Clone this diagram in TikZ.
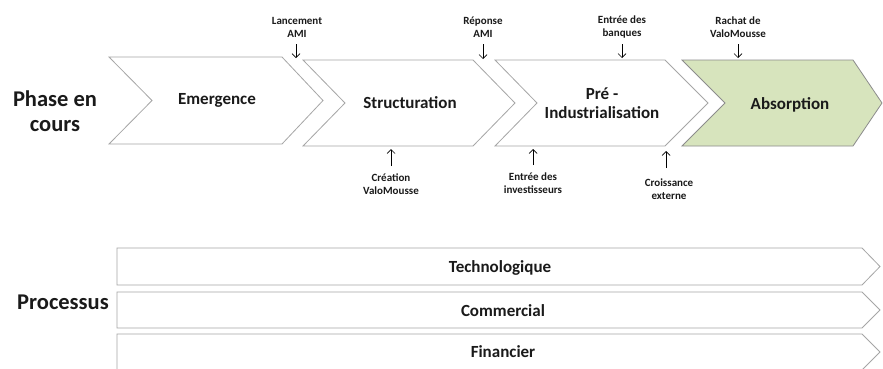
\documentclass[tikz,border=0pt]{standalone}
\usepackage{fontspec}
\setmainfont{Carlito}
\usetikzlibrary{arrows.meta}
\definecolor{chevline}{HTML}{A6A6A6}
\definecolor{absline}{HTML}{8C8C8C}
\definecolor{absfill}{HTML}{D7E4BD}
\definecolor{txt}{HTML}{1A1A1A}
\tikzset{
  chevbox/.style={draw=chevline, line width=0.8pt, fill=white, line join=miter},
  barbox/.style={draw=chevline, line width=0.8pt, fill=white},
  phasetext/.style={font=\bfseries\fontsize{17}{19}\selectfont, text=txt, align=center, inner sep=0pt},
  bartext/.style={font=\bfseries\fontsize{17}{19}\selectfont, text=txt, inner sep=0pt},
  headtext/.style={font=\bfseries\fontsize{22.5}{25.5}\selectfont, text=txt, align=center, inner sep=0pt},
  evtext/.style={font=\bfseries\fontsize{11}{13}\selectfont, text=txt, align=center, inner sep=0pt},
  evarrow/.style={-{Straight Barb[length=4pt,width=8pt]}, line width=0.7pt, black},
}
\newcommand{\mychev}[7]{% style, xleft, xright, xtip, ytop, ybottom, notch depth
  \path[#1] (#2,#5) -- (#3,#5) -- (#4,{(#5+#6)/2}) -- (#3,#6) -- (#2,#6) -- ({#2+#7},{(#5+#6)/2}) -- cycle;}
\begin{document}
\begin{tikzpicture}[x=1pt,y=-1pt]
\useasboundingbox[fill=white] (0,0) rectangle (883,368);
% phase chevrons
\mychev{chevbox}{109}{282}{323}{57}{144}{43}
\mychev{chevbox}{303}{473}{515}{60}{146}{42}
\mychev{chevbox}{495}{665}{708}{60}{146}{42}
\mychev{chevbox,fill=absfill,draw=absline}{682}{853}{882}{60}{146}{43}
\node[phasetext] (emergence) at (217,100) {Emergence};
\node[phasetext] (structuration) at (410,103) {Structuration};
\node[phasetext] (preindus) at (602,103) {Pré -\\Industrialisation};
\node[phasetext] (absorption) at (790,105) {Absorption};
\node[headtext] (phase) at (55,111) {Phase en\\cours};
% events above
\node[evtext] (lancement) at (297,27) {Lancement\\AMI};
\coordinate (lancementpt) at (296,58);
\draw[evarrow] (296,44) -- (lancementpt);
\node[evtext] (reponse) at (483,27) {Réponse\\AMI};
\coordinate (reponsept) at (483,59);
\draw[evarrow] (483,44) -- (reponsept);
\node[evtext] (banques) at (622,27) {Entrée des\\banques};
\coordinate (banquespt) at (622,58);
\draw[evarrow] (622,44) -- (banquespt);
\node[evtext] (rachat) at (738,27) {Rachat de\\ValoMousse};
\coordinate (rachatpt) at (738,58);
\draw[evarrow] (738,44) -- (rachatpt);
% events below
\node[evtext] (creation) at (391,184) {Création\\ValoMousse};
\coordinate (creationpt) at (391,149);
\draw[evarrow] (391,166) -- (creationpt);
\node[evtext] (investisseurs) at (533,183) {Entrée des\\investisseurs};
\coordinate (investpt) at (533,149);
\draw[evarrow] (533,165) -- (investpt);
\node[evtext] (croissance) at (669,189) {Croissance\\externe};
\coordinate (croissancept) at (666,151);
\draw[evarrow] (666,168) -- (croissancept);
% process bars
\path[barbox] (117,248) -- (862,248) -- (880,266.5) -- (862,285) -- (117,285) -- cycle;
\path[barbox] (117,292) -- (862,292) -- (880,310) -- (862,328) -- (117,328) -- cycle;
\path[barbox] (117,334) -- (862,334) -- (880,352) -- (862,370) -- (117,370) -- cycle;
\node[bartext] (techno) at (500,268) {Technologique};
\node[bartext] (commercial) at (503,311) {Commercial};
\node[bartext] (financier) at (503,352) {Financier};
\node[headtext] (processus) at (63,302) {Processus};
\end{tikzpicture}
\end{document}
